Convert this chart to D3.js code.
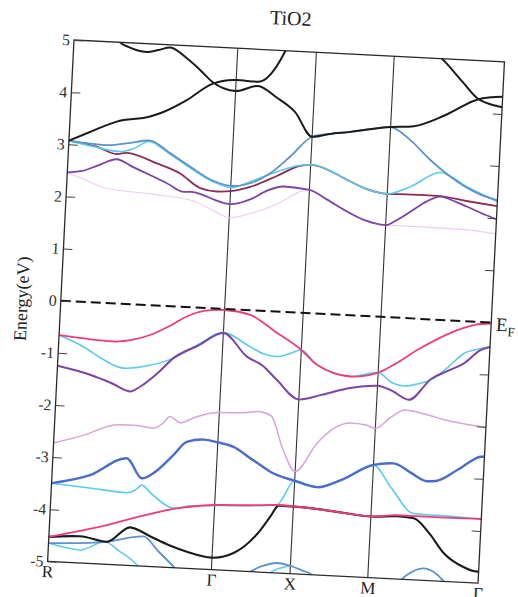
<!DOCTYPE html>
<html><head><meta charset="utf-8">
<script src="https://cdn.jsdelivr.net/npm/d3@7"></script>
<style>body{margin:0;background:#fff} svg text{font-family:"Liberation Serif","Times New Roman",serif;}</style>
</head><body><svg id="c" width="518" height="597"></svg>
<script>
// ---------- data ----------
const title = "TiO2";
const yLabel = "Energy(eV)";
const kTicks = [0, 1.64, 2.427, 3.206, 4.31];
const kLabels = ["R", "Γ", "X", "M", "Γ"];
const eTicks = [5, 4, 3, 2, 1, 0, -1, -2, -3, -4, -5];
const eRightTicks = [4, 3, 2, 1, -1, -2, -3, -4];

// conduction bands [k, E]
const cbBlackA = [[0,3.07],[0.2,3.25],[0.468,3.48],[0.799,3.61],[0.929,3.71],[1.157,3.96],[1.399,4.29],[1.64,4.39],[1.86,4.38],[2.113,4.98],[2.14,5.1]];
const cbBlackB = [[0.40,5.15],[0.461,5.0],[0.546,4.92],[0.733,4.84],[0.85,4.89],[0.964,4.95],[1.136,4.76],[1.275,4.55],[1.398,4.34],[1.64,4.18],[1.86,4.30],[2.05,4.10],[2.243,3.84],[2.427,3.38],[2.60,3.45],[2.806,3.51],[3.0,3.58],[3.206,3.64],[3.437,3.68],[3.745,3.92],[4.07,4.26],[4.31,4.33]];
const cbBlackC = [[3.60,5.15],[3.718,4.94],[3.90,4.58],[4.07,4.26],[4.31,4.13]];
const cbSteel = [[0,3.07],[0.38,3.02],[0.60,3.08],[0.81,3.15],[1.0,2.95],[1.224,2.69],[1.45,2.45],[1.64,2.36],[1.833,2.43],[2.027,2.64],[2.219,2.98],[2.427,3.38],[2.60,3.45],[2.806,3.51],[3.0,3.58],[3.206,3.64],[3.41,3.41],[3.62,3.05],[3.829,2.75],[4.105,2.46],[4.31,2.34]];
const cbCyan = [[0,3.07],[0.25,2.98],[0.517,2.91],[0.65,2.98],[0.80,3.13],[1.0,2.93],[1.22,2.67],[1.45,2.43],[1.64,2.33],[1.832,2.46],[2.10,2.68],[2.35,2.83],[2.456,2.84],[2.65,2.72],[2.832,2.56],[3.0,2.43],[3.205,2.36],[3.434,2.52],[3.727,2.82],[4.001,2.57],[4.31,2.32]];
const cbMaroon = [[0,3.07],[0.281,2.98],[0.485,2.86],[0.584,2.89],[0.889,2.72],[1.127,2.55],[1.335,2.29],[1.50,2.24],[1.64,2.26],[1.834,2.36],[2.10,2.60],[2.32,2.81],[2.456,2.84],[2.65,2.72],[2.832,2.56],[3.0,2.43],[3.205,2.36],[3.45,2.37],[3.706,2.37],[4.0,2.30],[4.31,2.23]];
const cbPurple = [[0,2.46],[0.159,2.51],[0.30,2.62],[0.487,2.76],[0.65,2.63],[0.828,2.49],[1.0,2.35],[1.17,2.20],[1.25,2.21],[1.35,2.17],[1.50,2.07],[1.64,2.01],[1.84,2.12],[2.0,2.30],[2.167,2.40],[2.427,2.36],[2.60,2.20],[2.848,1.95],[3.0,1.83],[3.206,1.76],[3.30,1.85],[3.447,2.04],[3.60,2.25],[3.739,2.36],[3.90,2.27],[4.011,2.19],[4.20,2.05],[4.31,1.98]];
const cbLavender = [[0,2.45],[0.15,2.36],[0.402,2.19],[0.838,2.13],[1.24,2.05],[1.45,1.90],[1.64,1.75],[1.848,1.85],[2.10,2.05],[2.369,2.34],[2.427,2.36],[2.60,2.20],[2.848,1.95],[3.0,1.83],[3.206,1.76],[3.60,1.76],[4.0,1.75],[4.31,1.70]];

// valence bands [k, E]
const vbPink = [[0,-0.66],[0.25,-0.70],[0.546,-0.73],[0.75,-0.67],[0.909,-0.57],[1.10,-0.38],[1.267,-0.18],[1.45,-0.05],[1.64,-0.02],[1.899,-0.09],[2.158,-0.385],[2.427,-0.71],[2.591,-0.98],[2.93,-1.17],[3.206,-1.07],[3.40,-0.85],[3.584,-0.60],[3.80,-0.35],[3.974,-0.18],[4.15,-0.06],[4.31,-0.02]];
const vbCyan = [[0,-0.66],[0.248,-0.86],[0.45,-1.08],[0.659,-1.23],[0.90,-1.16],[1.154,-0.99],[1.40,-0.70],[1.64,-0.45],[1.915,-0.70],[2.05,-0.82],[2.187,-0.86],[2.30,-0.80],[2.427,-0.71],[2.591,-0.98],[2.93,-1.17],[3.206,-1.07],[3.35,-1.25],[3.468,-1.30],[3.60,-1.25],[3.732,-1.16],[3.90,-0.90],[4.052,-0.62],[4.20,-0.52],[4.31,-0.47]];
const vbPurple = [[0,-1.25],[0.33,-1.39],[0.55,-1.53],[0.738,-1.67],[0.835,-1.57],[1.0,-1.30],[1.154,-0.99],[1.40,-0.72],[1.64,-0.46],[1.887,-0.89],[2.05,-1.05],[2.199,-1.31],[2.427,-1.66],[2.65,-1.55],[2.936,-1.39],[3.206,-1.32],[3.35,-1.40],[3.525,-1.56],[3.744,-1.13],[3.90,-0.97],[4.057,-0.81],[4.217,-0.54],[4.31,-0.47]];
const vbLavender = [[0,-2.73],[0.30,-2.55],[0.622,-2.32],[0.80,-2.31],[0.99,-2.35],[1.08,-2.25],[1.151,-2.11],[1.254,-2.22],[1.40,-2.10],[1.615,-1.99],[1.85,-1.97],[2.048,-1.93],[2.16,-2.0],[2.283,-2.58],[2.427,-3.04],[2.631,-2.48],[2.79,-2.18],[2.954,-2.06],[3.10,-2.08],[3.206,-2.14],[3.35,-1.92],[3.494,-1.76],[3.70,-1.82],[3.899,-1.91],[4.10,-1.97],[4.31,-2.02]];
const vbRoyal = [[0,-3.50],[0.38,-3.31],[0.739,-2.95],[0.899,-3.32],[1.012,-3.21],[1.20,-2.85],[1.33,-2.58],[1.50,-2.52],[1.64,-2.56],[1.80,-2.63],[1.972,-2.83],[2.075,-2.95],[2.178,-3.07],[2.427,-3.22],[2.653,-3.32],[2.90,-3.15],[3.206,-2.84],[3.407,-2.79],[3.58,-2.95],[3.75,-3.10],[3.85,-3.08],[4.05,-2.85],[4.271,-2.58],[4.31,-2.57]];
const vbCyan2 = [[0,-3.50],[0.40,-3.56],[0.756,-3.61],[0.84,-3.55],[0.902,-3.45],[1.0,-3.60],[1.23,-3.86],[1.40,-3.80],[1.64,-3.77],[1.996,-3.74],[2.262,-3.70],[2.427,-3.22],[2.653,-3.32],[2.90,-3.15],[3.206,-2.84],[3.386,-3.24],[3.632,-3.73],[4.0,-3.75],[4.31,-3.77]];
const vbPink2 = [[0,-4.53],[0.572,-4.25],[0.90,-4.05],[1.264,-3.86],[1.64,-3.76],[2.0,-3.73],[2.262,-3.70],[2.529,-3.72],[2.90,-3.78],[3.206,-3.83],[3.467,-3.78],[3.80,-3.78],[4.31,-3.77]];
const vbBlack = [[0,-4.53],[0.31,-4.49],[0.58,-4.57],[0.807,-4.27],[1.01,-4.42],[1.20,-4.57],[1.386,-4.68],[1.64,-4.77],[1.853,-4.66],[2.108,-4.20],[2.201,-3.93],[2.28,-3.71],[2.529,-3.72],[2.90,-3.78],[3.206,-3.83],[3.467,-3.80],[3.635,-3.82],[3.80,-4.10],[3.953,-4.46],[4.15,-4.70],[4.296,-4.78],[4.31,-4.78]];
const vbSteel1 = [[0,-4.65],[0.58,-4.57],[0.944,-4.43],[1.10,-4.70],[1.26,-4.98],[1.32,-5.1]];
const vbCyan3 = [[0,-4.65],[0.318,-4.75],[0.564,-4.57],[0.70,-4.72],[0.893,-4.98],[0.95,-5.1]];
const vbSteel2 = [[1.95,-5.1],[2.029,-5.0],[2.15,-4.88],[2.292,-4.81],[2.427,-4.85],[2.55,-4.93],[2.647,-5.0],[2.70,-5.1]];
const vbCyan4 = [[2.20,-5.05],[2.23,-5.0],[2.427,-4.85]];
const vbSteel3 = [[3.52,-5.05],[3.598,-4.91],[3.76,-4.77],[3.90,-4.88],[3.967,-5.0],[4.0,-5.05]];

// ---------- drawing ----------
const W = 431, H = 522;
const C = {black:"#1b1b1b", steel:"#5c93cc", cyan:"#5ccbea", maroon:"#8c2c58", purple:"#7b44a6",
           pink:"#ec3d7c", royal:"#4a6ccb", lavCB:"#efcdef", lavVB:"#d8a2da"};
const series = [
  {d:cbLavender, c:C.lavCB, w:1.1},
  {d:vbLavender, c:C.lavVB, w:1.5},
  {d:cbMaroon, c:C.maroon, w:1.8},
  {d:cbCyan, c:C.cyan, w:1.6},
  {d:cbSteel, c:C.steel, w:1.8},
  {d:cbPurple, c:C.purple, w:1.8},
  {d:cbBlackA, c:C.black, w:2},
  {d:cbBlackB, c:C.black, w:2},
  {d:cbBlackC, c:C.black, w:2},
  {d:vbCyan, c:C.cyan, w:1.6},
  {d:vbPurple, c:C.purple, w:2},
  {d:vbPink, c:C.pink, w:1.8},
  {d:vbCyan2, c:C.cyan, w:1.6},
  {d:vbRoyal, c:C.royal, w:2.4},
  {d:vbCyan3, c:C.cyan, w:1.5},
  {d:vbCyan4, c:C.cyan, w:1.5},
  {d:vbSteel1, c:C.steel, w:1.8},
  {d:vbSteel2, c:C.steel, w:1.8},
  {d:vbSteel3, c:C.steel, w:1.8},
  {d:vbBlack, c:C.black, w:2.1},
  {d:vbPink2, c:C.pink, w:1.8}
];

const svg = d3.select("#c");
svg.append("rect").attr("width",518).attr("height",597).attr("fill","#fff");
const g = svg.append("g").attr("transform","translate(74,40) rotate(2.9)");
const x = d3.scaleLinear().domain([0,4.31]).range([0,W]);
const y = d3.scaleLinear().domain([-5,5]).range([H,0]);

g.append("clipPath").attr("id","clip").append("rect").attr("width",W).attr("height",H);

// high-symmetry vertical lines
g.selectAll("line.sym").data(kTicks.slice(1,-1)).join("line")
  .attr("x1",d=>x(d)).attr("x2",d=>x(d)).attr("y1",0).attr("y2",H)
  .attr("stroke","#333").attr("stroke-width",1.1);

const plot = g.append("g").attr("clip-path","url(#clip)");
const line = d3.line().x(d=>x(d[0])).y(d=>y(d[1])).curve(d3.curveMonotoneX);
plot.selectAll("path.band").data(series).join("path")
  .attr("d",s=>line(s.d)).attr("fill","none")
  .attr("stroke",s=>s.c).attr("stroke-width",s=>s.w)
  .attr("stroke-linejoin","round").attr("stroke-linecap","round");

// Fermi level
g.append("line").attr("x1",0).attr("x2",W).attr("y1",y(0)).attr("y2",y(0))
  .attr("stroke","#111").attr("stroke-width",2).attr("stroke-dasharray","10,5");

// frame
g.append("rect").attr("width",W).attr("height",H).attr("fill","none")
  .attr("stroke","#2a2a2a").attr("stroke-width",1.3);

// axes
const fontFam = '"Liberation Serif","Times New Roman",serif';
const ax = g.append("g").call(d3.axisLeft(y).tickValues(eTicks).tickSizeInner(-9).tickSizeOuter(0)
  .tickPadding(4).tickFormat(d=>String(d)));
ax.attr("font-family",null);
ax.select(".domain").remove();
ax.selectAll("line").attr("stroke","#444");
ax.selectAll("text").style("font-family",fontFam).attr("font-size",16).attr("fill","#333");

const axr = g.append("g").attr("transform",`translate(${W},0)`)
  .call(d3.axisRight(y).tickValues(eRightTicks).tickSizeInner(-9).tickSizeOuter(0).tickFormat(""));
axr.select(".domain").remove();
axr.selectAll("line").attr("stroke","#444");

const axb = g.append("g").attr("transform",`translate(0,${H})`)
  .call(d3.axisBottom(x).tickValues(kTicks).tickSize(0).tickPadding(4).tickFormat((d,i)=>kLabels[i]));
axb.attr("font-family",null);
axb.select(".domain").remove();
axb.selectAll("text").style("font-family",fontFam).attr("font-size",17).attr("fill","#222");

// labels
g.append("text").attr("x",W/2).attr("y",-26).attr("text-anchor","middle")
  .style("font-family",fontFam).attr("font-size",20).attr("fill","#222").text(title);
g.append("text").attr("transform",`translate(-39,${H/2}) rotate(-90)`).attr("text-anchor","middle")
  .attr("dominant-baseline","central").style("font-family",fontFam).attr("font-size",18)
  .attr("fill","#222").text(yLabel);
const ef = g.append("text").attr("x",W+5).attr("y",y(0)+8).style("font-family",fontFam)
  .attr("font-size",19).attr("fill","#222");
ef.append("tspan").text("E");
ef.append("tspan").attr("dy",5).attr("font-size",13).text("F");
</script></body></html>
